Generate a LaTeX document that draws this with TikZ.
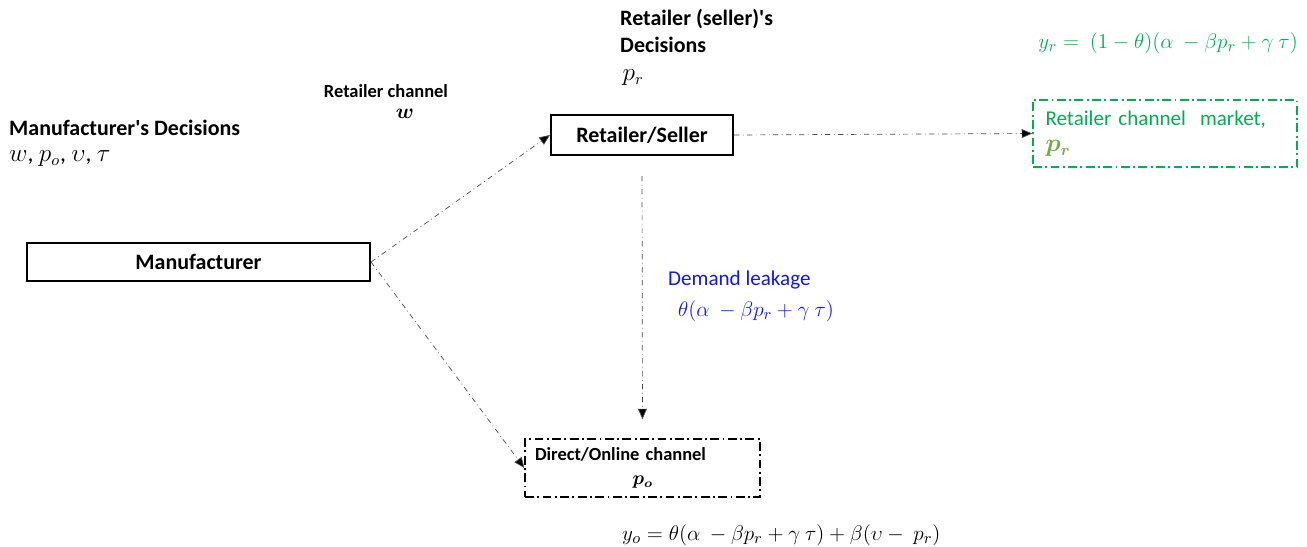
\documentclass[tikz,border=0pt]{standalone}
\usepackage{amsmath,amssymb}
\usepackage{xcolor}
\usepackage{fontspec}
\setmainfont{Carlito}
\usetikzlibrary{positioning, arrows.meta}
\definecolor{mktgreen}{RGB}{0,176,80}
\definecolor{prgreen}{RGB}{112,173,71}
\definecolor{leakblue}{RGB}{20,20,250}
\newcommand{\LabelFont}{\fontsize{12.5}{15}\selectfont}
\newcommand{\SmallFont}{\fontsize{10.5}{13}\selectfont}

\begin{document}
\begin{tikzpicture}[
    agent/.style = {draw, line width = 1.2pt, font = \LabelFont\bfseries},
    channel/.style = {draw, line width = 0.8pt, dash pattern = on 5pt off 2pt on 1pt off 2pt},
    flow/.style = {draw = black!70, thin, dash dot, -{Triangle[length = 6pt, width = 5pt, fill = black]}},
    tight/.style = {inner ysep = 0.5pt, text height = 9pt, text depth = 3pt, anchor = west}
  ]
    \useasboundingbox (0, 0) rectangle (26.14, -10.94);

    % draw the agents
    \node[agent, minimum width = 6.86cm, minimum height = 0.76cm] (manu) at (3.97, -5.24) {Manufacturer};
    \node[agent, minimum width = 3.64cm, minimum height = 0.8cm] (seller) at (12.84, -2.7) {Retailer/Seller};


    % draw the channels
    \node[channel, draw = mktgreen, text = mktgreen, font = \fontsize{12}{15}\selectfont,
          text width = 4.78cm, inner xsep = 0.25cm, minimum height = 1.34cm, align = left]
          (market) at (23.3, -2.67) {Retailer channel\ \ market,\\ \textcolor{prgreen}{\fontsize{13.5}{15}\selectfont$\boldsymbol{p_r}$}};
    \node[channel, font = \SmallFont\bfseries, text width = 4.3cm, inner xsep = 0.2cm,
          minimum height = 1.16cm, align = left]
          (direct) at (12.85, -9.36) {Direct/Online channel\\[1pt] \hspace*{1.95cm}$\boldsymbol{p_o}$};


    % draw decisions
    \node[tight, font = \LabelFont\bfseries] (manudec) at (0.06, -2.6) {Manufacturer\textquotesingle s Decisions};
    \node[tight, font = \fontsize{13.5}{15}\selectfont] (manuvar) at (0.06, -3.12) {$w$, $p_o$, $\upsilon$, $\tau$};

    \node[tight, font = \LabelFont\bfseries] (sellerdec) at (12.28, -0.4) {Retailer (seller)\textquotesingle s};
    \node[tight, font = \LabelFont\bfseries] (sellerdec2) at (12.28, -0.94) {Decisions};
    \node[tight, font = \fontsize{13.5}{15}\selectfont] (sellervar) at (12.33, -1.5) {$p_r$};

    \node[inner ysep = 0.5pt, text height = 8pt, text depth = 2pt, font = \SmallFont\bfseries] (wlabel) at (7.72, -1.84) {Retailer channel};
    \node[inner ysep = 0.5pt, text height = 8pt, text depth = 2pt, font = \LabelFont] (wvar) at (8.1, -2.26) {$\boldsymbol{w}$};


    % draw demands
    \node[font = \LabelFont, text = mktgreen, anchor = east] (yr) at (26.08, -0.86)
          {$y_r =\ (1-\theta)(\alpha\ -\beta p_r + \gamma\ \tau)$};

    \node[tight, font = \fontsize{12}{15}\selectfont, text = leakblue] (leak) at (13.24, -5.6) {Demand leakage};
    \node[tight, font = \LabelFont, text = leakblue] (leakvar) at (13.44, -6.22)
          {$\theta(\alpha\ -\beta p_r + \gamma\ \tau)$};

    \node[font = \LabelFont, anchor = west] (yo) at (12.32, -10.7)
          {$y_o = \theta(\alpha\ -\beta p_r + \gamma\ \tau) + \beta(\upsilon -\ p_r)$};


    % draw flows
    \draw[flow] (manu.east) -- (seller.west);
    \draw[flow] (manu.east) -- (direct.west);
    \draw[flow] (seller.east) -- (market.west);
    \draw[flow, shorten <= 0.4cm, shorten >= 0.38cm] (seller.south) -- (direct.north);

\end{tikzpicture}
\end{document}
